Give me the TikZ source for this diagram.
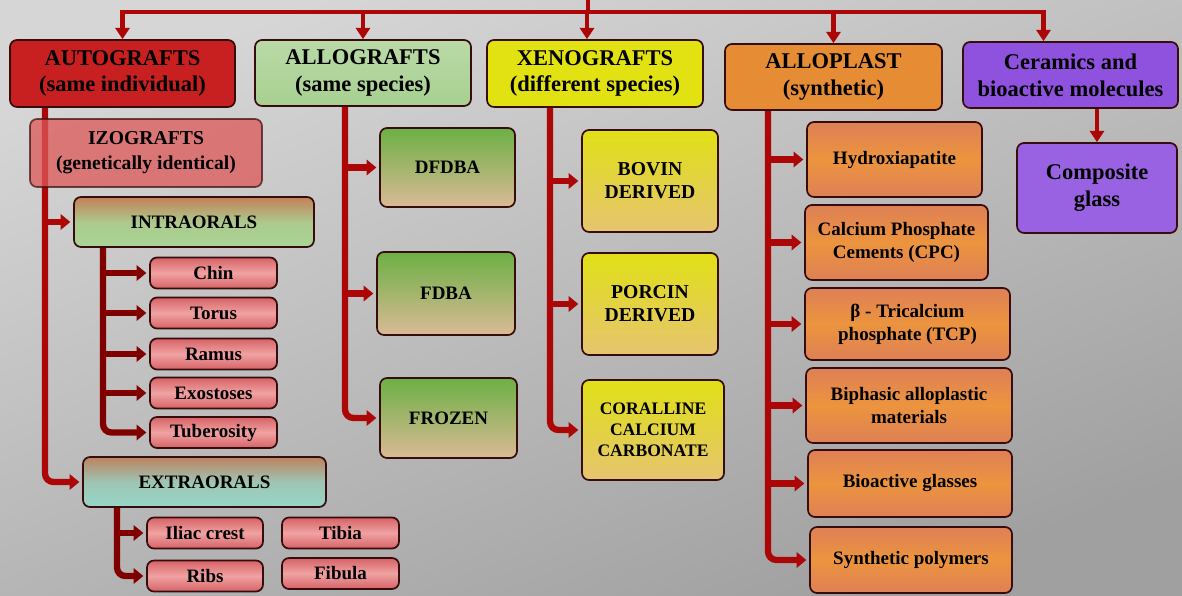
\documentclass[tikz,border=0pt]{standalone}
\usepackage{fontspec}
\setmainfont{Liberation Serif}
\usepackage{tikz}
\usetikzlibrary{arrows.meta}
\usepackage{xcolor}

\definecolor{bgTop}{RGB}{214,214,214}
\definecolor{bgBot}{RGB}{160,160,160}
\definecolor{boxEdge}{RGB}{55,12,12}
\definecolor{lineRed}{RGB}{172,6,6}
\definecolor{darkRed}{RGB}{128,0,0}
\definecolor{autoRed}{RGB}{200,32,32}
\definecolor{izoRed}{RGB}{222,88,88}
\definecolor{alloGreen}{RGB}{168,208,145}
\definecolor{xenoYellow}{RGB}{226,226,18}
\definecolor{plastOrange}{RGB}{230,140,52}
\definecolor{cerPurple}{RGB}{142,82,222}
\definecolor{compPurple}{RGB}{152,98,226}
\definecolor{pinkA}{RGB}{214,98,102}
\definecolor{pinkB}{RGB}{240,162,162}
\definecolor{greenA}{RGB}{108,176,68}
\definecolor{greenB}{RGB}{218,186,150}
\definecolor{yellowA}{RGB}{224,224,22}
\definecolor{yellowB}{RGB}{230,196,112}
\definecolor{orangeA}{RGB}{222,128,86}
\definecolor{orangeB}{RGB}{236,148,62}
\definecolor{intraTop}{RGB}{196,128,88}
\definecolor{intraBot}{RGB}{168,214,150}
\definecolor{extraTop}{RGB}{188,130,96}
\definecolor{extraBot}{RGB}{150,214,200}

\begin{document}
\begin{tikzpicture}[x=0.025cm, y=-0.025cm,
		sz/.style 2 args={minimum width=#1*0.025cm, minimum height=#2*0.025cm},
		cell/.style={draw=boxEdge, line width=1.2pt, rounded corners=5pt, inner sep=1pt, align=center, font=\bfseries\fontsize{13.5}{16.5}\selectfont},
		hdr/.style={cell, font=\bfseries\fontsize{16}{19}\selectfont},
		pinkbox/.style={cell, top color=pinkA, bottom color=pinkA, middle color=pinkB},
		greenbox/.style={cell, top color=greenA, bottom color=greenB},
		yellowbox/.style={cell, top color=yellowA, bottom color=yellowB, font=\bfseries\fontsize{14}{16.5}\selectfont},
		orangebox/.style={cell, top color=orangeA, bottom color=orangeA, middle color=orangeB},
		trunk/.style={draw=lineRed, line width=4.5pt, rounded corners=6pt},
		subtrunk/.style={trunk, draw=darkRed},
		arr/.style={-{Triangle[length=7pt,width=11pt]}, shorten >=2pt},
		topline/.style={draw=lineRed, line width=3pt},
		bararr/.style={-{Triangle[length=8pt,width=10pt]}}
	]
		\useasboundingbox (0,0) rectangle (1182,596);
		\fill[top color=bgTop, bottom color=bgBot, shading angle=20] (0,0) rectangle (1182,596);
		% main groups
		\node[hdr, sz={225}{67}, fill=autoRed] (auto) at (122.5,73.5) {AUTOGRAFTS\\(same individual)};
		\node[hdr, sz={216}{66}, top color=alloGreen!80!white, bottom color=alloGreen] (allo) at (363,73) {ALLOGRAFTS\\(same species)};
		\node[hdr, sz={216}{67}, fill=xenoYellow] (xeno) at (595,73.5) {XENOGRAFTS\\(different species)};
		\node[hdr, sz={217}{66}, fill=plastOrange] (plast) at (833.5,77) {ALLOPLAST\\(synthetic)};
		\node[hdr, sz={215}{66}, fill=cerPurple] (cer) at (1070.5,75) {Ceramics and\\bioactive molecules};
		\node[hdr, sz={160}{90}, fill=compPurple] (comp) at (1097,188) {Composite\\glass};
		% autografts
		\node[cell, sz={240}{50}, top color=intraTop, bottom color=intraBot, middle color=intraBot!85!intraTop] (intra) at (194,222) {INTRAORALS};
		\node[pinkbox, sz={127}{31}] (chin) at (213.5,273) {Chin};
		\node[pinkbox, sz={127}{31}] (torus) at (213.5,313) {Torus};
		\node[pinkbox, sz={127}{31}] (ramus) at (213.5,354) {Ramus};
		\node[pinkbox, sz={127}{31}] (exo) at (213.5,393) {Exostoses};
		\node[pinkbox, sz={127}{31}] (tuber) at (213.5,432.5) {Tuberosity};
		\node[cell, sz={243}{50}, top color=extraTop, bottom color=extraBot, middle color=extraBot!80!extraTop] (extra) at (204.5,482) {EXTRAORALS};
		\node[pinkbox, sz={116}{31}] (iliac) at (205,533) {Iliac crest};
		\node[pinkbox, sz={116}{31}] (ribs) at (205,576) {Ribs};
		\node[pinkbox, sz={117}{31}] (tibia) at (340.5,533) {Tibia};
		\node[pinkbox, sz={117}{31}] (fibula) at (340.5,573.5) {Fibula};
		% allografts
		\node[greenbox, sz={135}{79}] (dfdba) at (447.5,167.5) {DFDBA};
		\node[greenbox, sz={138}{83}] (fdba) at (446,293.5) {FDBA};
		\node[greenbox, sz={137}{80}] (frozen) at (448.5,418) {FROZEN};
		% xenografts
		\node[yellowbox, sz={136}{102}] (bovin) at (650,181) {BOVIN\\DERIVED};
		\node[yellowbox, sz={136}{102}] (porcin) at (650,304) {PORCIN\\DERIVED};
		\node[yellowbox, sz={142}{100}, font=\bfseries\fontsize{12.5}{15}\selectfont] (coral) at (653,430) {CORALLINE\\CALCIUM\\CARBONATE};
		% alloplast
		\node[orangebox, sz={175}{75}] (hydro) at (894.5,159.5) {Hydroxiapatite};
		\node[orangebox, sz={183}{75}] (cpc) at (896.5,242.5) {Calcium Phosphate\\Cements (CPC)};
		\node[orangebox, sz={205}{72}] (tcp) at (907.5,324) {β - Tricalcium\\phosphate (TCP)};
		\node[orangebox, sz={206}{75}] (biph) at (909,405.5) {Biphasic alloplastic\\materials};
		\node[orangebox, sz={204}{67}] (bioa) at (910,483.5) {Bioactive glasses};
		\node[orangebox, sz={202}{66}] (synth) at (911,560) {Synthetic polymers};
		% top bar
		\coordinate (bar) at (588,12);
		\path (xeno.north) ++(-8,0) coordinate (xenoIn);
		\path (cer.north) ++(-27,0) coordinate (cerIn);
		\draw[topline] (bar) -- ++(0,-14);
		\draw[topline, {Triangle[length=8pt,width=10pt]}-{Triangle[length=8pt,width=10pt]}] (auto.north) |- (bar) -| (cerIn);
		\foreach \n in {allo.north, xenoIn, plast.north}
			\draw[topline, bararr] (\n |- bar) -- (\n);
		\draw[topline, bararr] (cer.south -| comp.north) -- (comp.north);
		% trunks
		\coordinate (autoT) at (45,0);
		\draw[trunk, arr] (autoT |- auto.south) |- (extra.west);
		\draw[trunk, arr] (autoT |- intra.west) -- (intra.west);
		\coordinate (intraT) at (103,0);
		\draw[subtrunk, arr] (intraT |- intra.south) |- (tuber.west);
		\foreach \n in {chin, torus, ramus, exo}
			\draw[subtrunk, arr] (intraT |- \n.west) -- (\n.west);
		\coordinate (extraT) at (117,0);
		\draw[subtrunk, arr] (extraT |- extra.south) |- (ribs.west);
		\draw[subtrunk, arr] (extraT |- iliac.west) -- (iliac.west);
		\coordinate (alloT) at (345,0);
		\draw[trunk, arr] (alloT |- allo.south) |- (frozen.west);
		\foreach \n in {dfdba, fdba}
			\draw[trunk, arr] (alloT |- \n.west) -- (\n.west);
		\coordinate (xenoT) at (550,0);
		\draw[trunk, arr] (xenoT |- xeno.south) |- (coral.west);
		\foreach \n in {bovin, porcin}
			\draw[trunk, arr] (xenoT |- \n.west) -- (\n.west);
		\coordinate (plastT) at (768,0);
		\draw[trunk, arr] (plastT |- plast.south) |- (synth.west);
		\foreach \n in {hydro, cpc, tcp, biph, bioa}
			\draw[trunk, arr] (plastT |- \n.west) -- (\n.west);
		% izografts over the trunk
		\node[cell, sz={232}{68}, fill=izoRed, fill opacity=0.75, draw opacity=0.7, text opacity=1, font=\bfseries\fontsize{14}{18}\selectfont] (izo) at (146,153) {IZOGRAFTS\\(genetically identical)};
	\end{tikzpicture}
\end{document}
